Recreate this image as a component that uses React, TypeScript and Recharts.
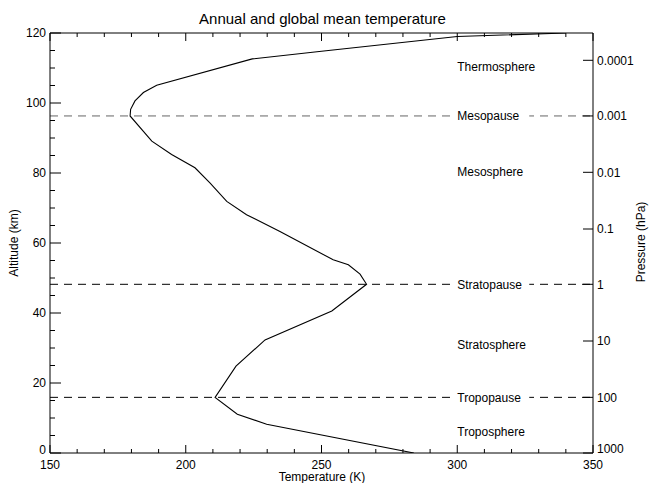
import React from "react"
import {
  LineChart,
  Line,
  XAxis,
  YAxis,
  ReferenceLine,
} from "recharts"

// ============ Data ============
// annual / global mean temperature profile
const altitudes = [
  0, 8.2, 11.1, 15.9, 24.8, 32.3, 40.6, 48.2, 51.1, 53.8, 55.2, 63.3, 68.1,
  71.9, 77.2, 81.5, 85.3, 89.1, 96.3, 98.2, 100.6, 103.0, 105.1, 112.6, 114.8,
  119.0, 120,
]
const temperatures = [
  284, 229.8, 219, 210.8, 218.5, 229.2, 253.8, 266.6, 264.2, 259.9, 254.3,
  234.7, 222.4, 215.1, 208.9, 203.4, 194.8, 187.5, 179.5, 179.7, 181.3, 184.4,
  189.3, 224.5, 250, 300, 340,
]

const tempTicks = [150, 200, 250, 300, 350]
const tempMinorTicks = [
  160, 170, 180, 190, 210, 220, 230, 240, 260, 270, 280, 290, 310, 320, 330,
  340,
]
const altTicks = [0, 20, 40, 60, 80, 100, 120]
const altMinorTicks = [
  5, 10, 15, 25, 30, 35, 45, 50, 55, 65, 70, 75, 85, 90, 95, 105, 110, 115,
]
const pressureLabels = ["1000", "100", "10", "1", "0.1", "0.01", "0.001", "0.0001"]
const pressureAlts = [0, 15.9, 32.0, 48.2, 64.0, 80.2, 96.3, 112.2]

const pauseNames = ["Mesopause", "Stratopause", "Tropopause"]
const pauseAlts = [96.3, 48.2, 15.9]
const sphereNames = ["Thermosphere", "Mesosphere", "Stratosphere", "Troposphere"]
const sphereAlts = [110.3, 80.3, 30.8, 6.0]

const T_MIN = 150
const T_MAX = 350
const LABEL_T = 300

const data = altitudes.map((alt, i) => ({ alt, temp: temperatures[i] }))
const allTempTicks = [...tempTicks, ...tempMinorTicks].sort((a, b) => a - b)
const allAltTicks = [...altTicks, ...altMinorTicks].sort((a, b) => a - b)

const FONT = "'Liberation Sans', Arial, Helvetica, sans-serif"
const M = 4 // tickMargin used on every axis

// ============ Ticks (IDL style: marks point into the plot) ============
const BottomTick = ({ x, y, payload }: any) => {
  const v = payload.value
  const major = tempTicks.includes(v)
  const ay = y - M
  return (
    <g>
      <line x1={x} x2={x} y1={ay} y2={ay - (major ? 8 : 4)} stroke="#000" />
      {major && (
        <text x={x} y={y + 3} dy="0.71em" textAnchor="middle" fontSize={12} fill="#000">
          {v}
        </text>
      )}
    </g>
  )
}

const TopTick = ({ x, y, payload }: any) => {
  const major = tempTicks.includes(payload.value)
  const ay = y + M
  return <line x1={x} x2={x} y1={ay} y2={ay + (major ? 8 : 4)} stroke="#000" />
}

const LeftTick = ({ x, y, payload }: any) => {
  const v = payload.value
  const major = altTicks.includes(v)
  const ax = x + M
  return (
    <g>
      <line x1={ax} x2={ax + (major ? 11 : 5)} y1={y} y2={y} stroke="#000" />
      {major && (
        <text
          x={x}
          y={v === 0 ? y - 3 : y}
          dy="0.355em"
          textAnchor="end"
          fontSize={12}
          fill="#000"
        >
          {v}
        </text>
      )}
    </g>
  )
}

const RightTick = ({ x, y, payload, index }: any) => {
  const ax = x - M
  return (
    <g>
      <line x1={ax} x2={ax - 10} y1={y} y2={y} stroke="#000" />
      <text
        x={x}
        y={index === 0 ? y - 4 : y}
        dy="0.355em"
        textAnchor="start"
        fontSize={12}
        fill="#000"
      >
        {pressureLabels[index]}
      </text>
    </g>
  )
}

// label sitting on a reference line (white box cuts the dashes)
const layerLabel =
  (name: string, boxed: boolean) =>
  (props: any) => {
    const vb = props.viewBox
    if (!vb) return null
    const x = vb.x + (vb.width * (LABEL_T - T_MIN)) / (T_MAX - T_MIN)
    const y = vb.y
    return (
      <g>
        {boxed && (
          <rect x={x - 6} y={y - 7} width={78} height={14} fill="#fff" />
        )}
        <text x={x} y={y} dy="0.35em" fontSize={12} fill="#000" fontFamily={FONT}>
          {name}
        </text>
      </g>
    )
  }

export default function App() {
  return (
    <div
      style={{
        position: "absolute",
        left: 0,
        top: 0,
        width: 649,
        height: 483,
        background: "#fff",
        fontFamily: FONT,
        color: "#000",
        overflow: "hidden",
      }}
    >
      <div
        style={{
          position: "absolute",
          left: 0,
          top: 11,
          width: 645,
          textAlign: "center",
          fontSize: 15,
          lineHeight: "16px",
        }}
      >
        Annual and global mean temperature
      </div>

      <LineChart
        width={649}
        height={483}
        data={data}
        margin={{ top: 32, right: 0, bottom: 0, left: 0 }}
        style={{ fontFamily: FONT }}
      >
        <XAxis
          type="number"
          dataKey="temp"
          domain={[T_MIN, T_MAX]}
          ticks={allTempTicks}
          interval={0}
          allowDataOverflow
          height={30}
          tickLine={false}
          tickSize={0}
          tickMargin={M}
          stroke="#000"
          tick={<BottomTick />}
        />
        <XAxis
          xAxisId="top"
          orientation="top"
          type="number"
          dataKey="temp"
          domain={[T_MIN, T_MAX]}
          ticks={allTempTicks}
          interval={0}
          allowDataOverflow
          height={1}
          tickLine={false}
          tickSize={0}
          tickMargin={M}
          stroke="#000"
          tick={<TopTick />}
        />
        <YAxis
          type="number"
          domain={[0, 120]}
          ticks={allAltTicks}
          interval={0}
          allowDataOverflow
          width={50}
          tickLine={false}
          tickSize={0}
          tickMargin={M}
          stroke="#000"
          tick={<LeftTick />}
        />
        <YAxis
          yAxisId="p"
          orientation="right"
          type="number"
          domain={[0, 120]}
          ticks={pressureAlts}
          interval={0}
          allowDataOverflow
          width={56}
          tickLine={false}
          tickSize={0}
          tickMargin={M}
          stroke="#000"
          tick={<RightTick />}
        />

        {pauseNames.map((name, i) => (
          <ReferenceLine
            key={name}
            y={pauseAlts[i]}
            stroke={i === 0 ? "#555" : "#000"}
            strokeWidth={i === 0 ? 0.9 : 1}
            strokeDasharray="8 6"
            label={layerLabel(name, true)}
          />
        ))}
        {sphereNames.map((name, i) => (
          <ReferenceLine
            key={name}
            y={sphereAlts[i]}
            stroke="none"
            label={layerLabel(name, false)}
          />
        ))}

        {/* hidden series so the top and pressure axes get a scale */}
        <Line
          xAxisId="top"
          dataKey="alt"
          stroke="none"
          dot={false}
          activeDot={false}
          legendType="none"
          isAnimationActive={false}
        />
        <Line
          yAxisId="p"
          dataKey="alt"
          stroke="none"
          dot={false}
          activeDot={false}
          legendType="none"
          isAnimationActive={false}
        />

        <Line
          dataKey="alt"
          type="linear"
          stroke="#000"
          strokeWidth={1.1}
          dot={false}
          isAnimationActive={false}
        />
      </LineChart>

      <div
        style={{
          position: "absolute",
          left: 0,
          top: 471,
          width: 644,
          textAlign: "center",
          fontSize: 12,
          lineHeight: "13px",
        }}
      >
        Temperature (K)
      </div>
      <div
        style={{
          position: "absolute",
          left: 14,
          top: 243,
          fontSize: 12,
          lineHeight: "13px",
          whiteSpace: "nowrap",
          transform: "translate(-50%, -50%) rotate(-90deg)",
        }}
      >
        Altitude (km)
      </div>
      <div
        style={{
          position: "absolute",
          left: 641,
          top: 242,
          fontSize: 12,
          lineHeight: "13px",
          whiteSpace: "nowrap",
          transform: "translate(-50%, -50%) rotate(-90deg)",
        }}
      >
        Pressure (hPa)
      </div>
    </div>
  )
}
